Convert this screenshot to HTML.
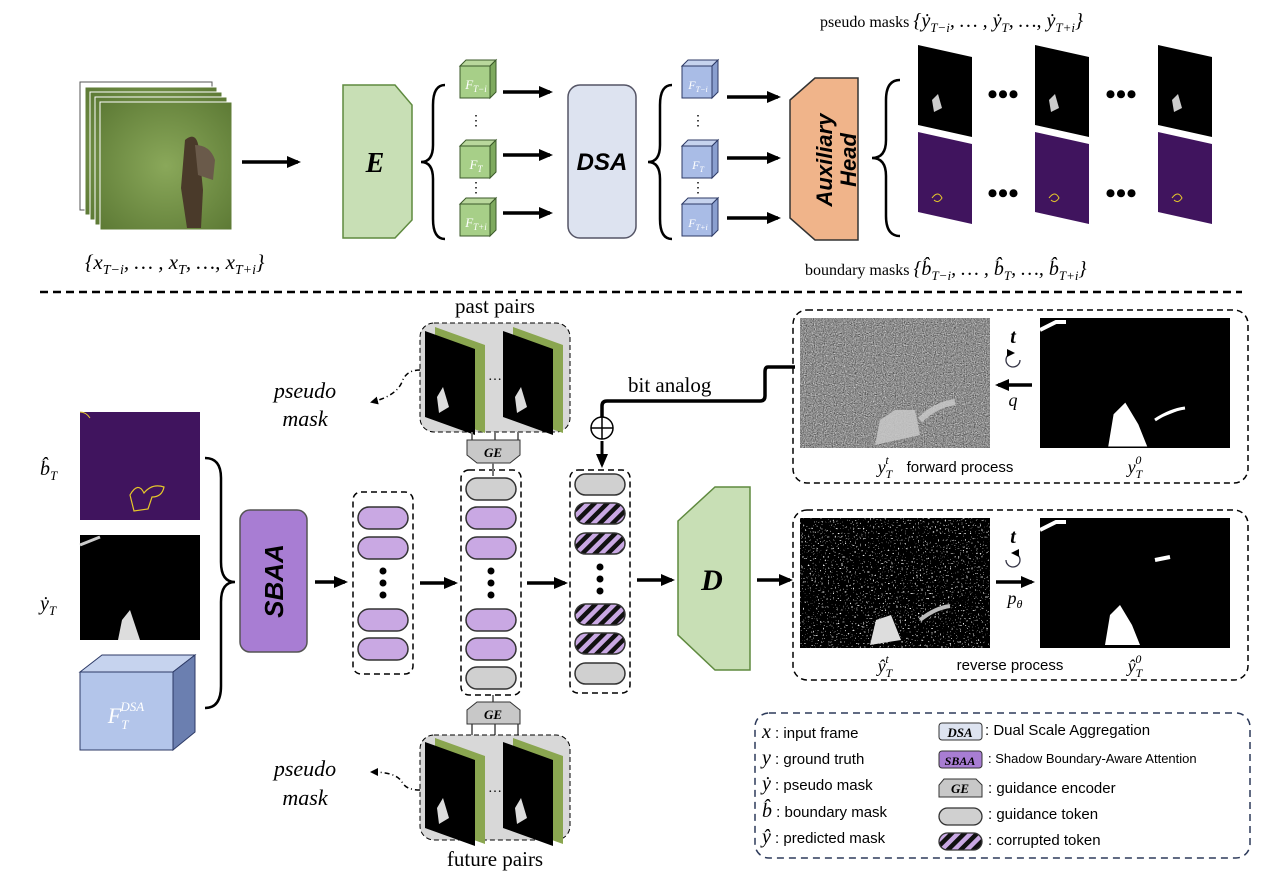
<!DOCTYPE html>
<html><head><meta charset="utf-8"><style>
body{margin:0;background:#fff}
svg{display:block}
.s{font-family:"Liberation Serif",serif}
.a{font-family:"Liberation Sans",sans-serif}
</style></head><body>
<svg width="1286" height="882" viewBox="0 0 1286 882" xmlns="http://www.w3.org/2000/svg">
<defs>
<marker id="ar" markerWidth="8" markerHeight="8" refX="6" refY="4" orient="auto" markerUnits="userSpaceOnUse"><path d="M0,0 L8,4 L0,8 z" fill="#000"/></marker>
<marker id="ab" markerWidth="14" markerHeight="12" refX="11" refY="6" orient="auto" markerUnits="userSpaceOnUse"><path d="M0,0 L14,6 L0,12 z" fill="#000"/></marker>
<pattern id="hat" width="9" height="9" patternUnits="userSpaceOnUse" patternTransform="rotate(45)"><rect width="9" height="9" fill="#c9a8e3"/><rect width="4.5" height="9" fill="#111"/></pattern>
<radialGradient id="grass" cx="50%" cy="50%" r="70%"><stop offset="0" stop-color="#8aa85a"/><stop offset="1" stop-color="#5d7a35"/></radialGradient>
<filter id="noise" x="0" y="0" width="100%" height="100%" color-interpolation-filters="sRGB"><feTurbulence type="fractalNoise" baseFrequency="0.9" numOctaves="1" seed="3"/><feColorMatrix type="matrix" values="0.5 0.5 0.5 0 -0.2  0.5 0.5 0.5 0 -0.2  0.5 0.5 0.5 0 -0.2  0 0 0 0 1"/></filter>
<filter id="speck" x="0" y="0" width="100%" height="100%"><feTurbulence type="fractalNoise" baseFrequency="0.6" numOctaves="1" seed="7"/><feColorMatrix type="matrix" values="0 0 0 9 -5.9  0 0 0 9 -5.9  0 0 0 9 -5.9  0 0 0 0 1"/></filter>
<g id="gcube"><path d="M0,6 L6,0 L36,0 L30,6 z" fill="#b9d79c" stroke="#3b5a2a"/><path d="M30,6 L36,0 L36,32 L30,38 z" fill="#7ea95e" stroke="#3b5a2a"/><rect x="0" y="6" width="30" height="32" fill="#a7cf88" stroke="#3b5a2a"/></g>
<g id="bcube"><path d="M0,6 L6,0 L36,0 L30,6 z" fill="#c6d3ee" stroke="#2d3a66"/><path d="M30,6 L36,0 L36,32 L30,38 z" fill="#8a9fcf" stroke="#2d3a66"/><rect x="0" y="6" width="30" height="32" fill="#a9bce6" stroke="#2d3a66"/></g>
<g id="pmask"><path d="M0,0 L54,12 L54,92 L0,80 z" fill="#000"/><path d="M14,55 l6,-6 l4,14 l-8,4 z" fill="#ccc"/></g>
<g id="bmask"><path d="M0,0 L54,12 L54,92 L0,80 z" fill="#40145e"/><path d="M14,66 q6,-8 10,0 q-4,6 -8,2" fill="none" stroke="#e6c82a" stroke-width="1"/></g>
<g id="pair"><path d="M10,0 L60,18 L60,106 L10,88 z" fill="#8aa650"/><path d="M0,4 L50,22 L50,108 L0,90 z" fill="#000"/><path d="M12,70 l6,-10 l6,20 l-10,6 z" fill="#ddd"/></g>
</defs>

<g>
<rect x="80" y="82" width="132" height="128" fill="#fff" stroke="#555"/>
<rect x="85" y="87" width="132" height="128" fill="url(#grass)" stroke="#fff"/>
<rect x="90" y="92" width="132" height="128" fill="url(#grass)" stroke="#fff"/>
<rect x="95" y="97" width="132" height="128" fill="url(#grass)" stroke="#fff"/>
<rect x="100" y="102" width="132" height="128" fill="url(#grass)" stroke="#fff"/>
<path d="M185,140 q12,-10 14,10 l4,40 l-2,38 l-14,0 l-6,-40 z" fill="#4a3a2a"/>
<path d="M195,145 q15,0 20,15 l-2,20 l-15,-5 z" fill="#6a5a4a"/>
</g>
<text x="85" y="269" class="s" font-size="21" font-style="italic">{x<tspan font-size="14" dy="5">T−i</tspan><tspan dy="-5">, … , x</tspan><tspan font-size="14" dy="5">T</tspan><tspan dy="-5">, …, x</tspan><tspan font-size="14" dy="5">T+i</tspan><tspan dy="-5">}</tspan></text>
<line x1="242" y1="162" x2="298" y2="162" stroke="#000" stroke-width="3.5" marker-end="url(#ab)"/>
<path d="M343,85 L395,85 L412,105 L412,220 L395,238 L343,238 z" fill="#c8dfb5" stroke="#5f8a3f" stroke-width="1.5"/>
<text x="375" y="172" class="s" font-size="28" font-weight="bold" font-style="italic" text-anchor="middle">E</text>
<path d="M445,85 q-12,0 -12,20 l0,40 q0,17 -12,17 q12,0 12,17 l0,40 q0,20 12,20" fill="none" stroke="#000" stroke-width="2.5"/>
<use href="#gcube" x="460" y="60"/><use href="#gcube" x="460" y="140"/><use href="#gcube" x="460" y="198"/>
<text x="476" y="89" class="s" font-size="13" fill="#fff" text-anchor="middle" font-style="italic">F<tspan font-size="9" dy="3">T−i</tspan></text>
<text x="476" y="169" class="s" font-size="13" fill="#fff" text-anchor="middle" font-style="italic">F<tspan font-size="9" dy="3">T</tspan></text>
<text x="476" y="227" class="s" font-size="13" fill="#fff" text-anchor="middle" font-style="italic">F<tspan font-size="9" dy="3">T+i</tspan></text>
<text x="476" y="125" font-size="14" text-anchor="middle">⋮</text><text x="476" y="192" font-size="14" text-anchor="middle">⋮</text>
<line x1="503" y1="92" x2="550" y2="92" stroke="#000" stroke-width="3.5" marker-end="url(#ab)"/>
<line x1="503" y1="155" x2="550" y2="155" stroke="#000" stroke-width="3.5" marker-end="url(#ab)"/>
<line x1="503" y1="213" x2="550" y2="213" stroke="#000" stroke-width="3.5" marker-end="url(#ab)"/>
<rect x="568" y="85" width="68" height="153" rx="12" fill="#dde3f0" stroke="#556" stroke-width="1.5"/>
<text x="602" y="170" class="a" font-size="24" font-weight="bold" font-style="italic" text-anchor="middle">DSA</text>
<path d="M672,85 q-12,0 -12,20 l0,40 q0,17 -12,17 q12,0 12,17 l0,40 q0,20 12,20" fill="none" stroke="#000" stroke-width="2.5"/>
<use href="#bcube" x="682" y="60"/><use href="#bcube" x="682" y="140"/><use href="#bcube" x="682" y="198"/>
<text x="698" y="89" class="s" font-size="12" fill="#fff" text-anchor="middle" font-style="italic">F<tspan font-size="8" dy="3">T−i</tspan></text>
<text x="698" y="169" class="s" font-size="12" fill="#fff" text-anchor="middle" font-style="italic">F<tspan font-size="8" dy="3">T</tspan></text>
<text x="698" y="227" class="s" font-size="12" fill="#fff" text-anchor="middle" font-style="italic">F<tspan font-size="8" dy="3">T+i</tspan></text>
<text x="698" y="125" font-size="14" text-anchor="middle">⋮</text><text x="698" y="192" font-size="14" text-anchor="middle">⋮</text>
<line x1="727" y1="97" x2="778" y2="97" stroke="#000" stroke-width="3.5" marker-end="url(#ab)"/>
<line x1="727" y1="158" x2="778" y2="158" stroke="#000" stroke-width="3.5" marker-end="url(#ab)"/>
<line x1="727" y1="218" x2="778" y2="218" stroke="#000" stroke-width="3.5" marker-end="url(#ab)"/>
<path d="M790,100 L815,78 L858,78 L858,240 L815,240 L790,218 z" fill="#f0b48a" stroke="#333" stroke-width="1.5"/>
<text transform="translate(832,160) rotate(-90)" class="a" font-size="22" font-weight="bold" font-style="italic" text-anchor="middle">Auxiliary</text>
<text transform="translate(856,160) rotate(-90)" class="a" font-size="22" font-weight="bold" font-style="italic" text-anchor="middle">Head</text>
<path d="M900,80 q-14,0 -14,20 l0,40 q0,18 -14,18 q14,0 14,18 l0,40 q0,20 14,20" fill="none" stroke="#000" stroke-width="2.5"/>
<use href="#pmask" x="918" y="45"/><use href="#pmask" x="1035" y="45"/><use href="#pmask" x="1158" y="45"/>
<use href="#bmask" x="918" y="132"/><use href="#bmask" x="1035" y="132"/><use href="#bmask" x="1158" y="132"/>
<text x="1003" y="104" font-size="30" text-anchor="middle" font-weight="bold">•••</text>
<text x="1121" y="104" font-size="30" text-anchor="middle" font-weight="bold">•••</text>
<text x="1003" y="203" font-size="30" text-anchor="middle" font-weight="bold">•••</text>
<text x="1121" y="203" font-size="30" text-anchor="middle" font-weight="bold">•••</text>
<text x="820" y="27" class="s" font-size="16">pseudo masks <tspan font-size="20" font-style="italic">{ẏ<tspan font-size="13" dy="5">T−i</tspan><tspan dy="-5">, … , ẏ</tspan><tspan font-size="13" dy="5">T</tspan><tspan dy="-5">, …, ẏ</tspan><tspan font-size="13" dy="5">T+i</tspan><tspan dy="-5">}</tspan></tspan></text>
<text x="805" y="275" class="s" font-size="16">boundary masks <tspan font-size="20" font-style="italic">{b̂<tspan font-size="13" dy="5">T−i</tspan><tspan dy="-5">, … , b̂</tspan><tspan font-size="13" dy="5">T</tspan><tspan dy="-5">, …, b̂</tspan><tspan font-size="13" dy="5">T+i</tspan><tspan dy="-5">}</tspan></tspan></text>
<line x1="40" y1="292" x2="1242" y2="292" stroke="#000" stroke-width="2.5" stroke-dasharray="8,5"/>

<text x="40" y="475" class="s" font-size="20" font-style="italic">b̂<tspan font-size="13" dy="5">T</tspan></text>
<rect x="80" y="412" width="120" height="108" fill="#40145e"/>
<path d="M130,495 q8,-14 14,-2 q8,-10 20,-6 q-2,10 -12,10 l-4,12 l-14,2 z" fill="none" stroke="#e6c82a" stroke-width="1.2"/>
<path d="M80,412 q6,0 10,6" fill="none" stroke="#e6c82a"/>
<text x="40" y="610" class="s" font-size="20" font-style="italic">ẏ<tspan font-size="13" dy="5">T</tspan></text>
<rect x="80" y="535" width="120" height="105" fill="#000"/>
<path d="M118,640 l4,-20 l8,-10 l6,18 l4,12 z" fill="#ddd"/>
<path d="M80,545 l20,-8" stroke="#ccc" stroke-width="3"/>
<path d="M80,672 L102,655 L195,655 L173,672 z" fill="#c6d3ee" stroke="#2d3a66"/>
<path d="M173,672 L195,655 L195,732 L173,750 z" fill="#6b7fb0" stroke="#2d3a66"/>
<rect x="80" y="672" width="93" height="78" fill="#b3c5ea" stroke="#2d3a66"/>
<text x="126" y="723" class="s" font-size="22" fill="#fff" font-style="italic" text-anchor="middle">F<tspan font-size="13" dy="6">T</tspan><tspan font-size="13" dy="-18" dx="-8">DSA</tspan></text>
<path d="M205,458 q16,0 16,20 l0,84 q0,20 14,20 q-14,0 -14,20 l0,84 q0,22 -16,22" fill="none" stroke="#000" stroke-width="2.5"/>
<rect x="240" y="510" width="67" height="142" rx="10" fill="#a87dd3" stroke="#555" stroke-width="1.5"/>
<text transform="translate(283,581) rotate(-90)" class="a" font-size="26" font-weight="bold" font-style="italic" text-anchor="middle">SBAA</text>
<line x1="315" y1="582" x2="345" y2="582" stroke="#000" stroke-width="3.5" marker-end="url(#ab)"/>

<g stroke="#333" stroke-width="1.5">
<rect x="353" y="492" width="60" height="182" rx="8" fill="none" stroke="#000" stroke-dasharray="6,4"/>
<rect x="358" y="507" width="50" height="22" rx="11" fill="#c9a8e3"/>
<rect x="358" y="537" width="50" height="22" rx="11" fill="#c9a8e3"/>
<rect x="358" y="609" width="50" height="22" rx="11" fill="#c9a8e3"/>
<rect x="358" y="638" width="50" height="22" rx="11" fill="#c9a8e3"/>
<rect x="461" y="470" width="60" height="225" rx="8" fill="none" stroke="#000" stroke-dasharray="6,4"/>
<rect x="466" y="478" width="50" height="22" rx="11" fill="#d0d0d0"/>
<rect x="466" y="507" width="50" height="22" rx="11" fill="#c9a8e3"/>
<rect x="466" y="537" width="50" height="22" rx="11" fill="#c9a8e3"/>
<rect x="466" y="609" width="50" height="22" rx="11" fill="#c9a8e3"/>
<rect x="466" y="638" width="50" height="22" rx="11" fill="#c9a8e3"/>
<rect x="466" y="667" width="50" height="22" rx="11" fill="#d0d0d0"/>
<rect x="570" y="470" width="60" height="223" rx="8" fill="none" stroke="#000" stroke-dasharray="6,4"/>
<rect x="575" y="474" width="50" height="21" rx="10.5" fill="#d0d0d0"/>
<rect x="575" y="503" width="50" height="21" rx="10.5" fill="url(#hat)"/>
<rect x="575" y="533" width="50" height="21" rx="10.5" fill="url(#hat)"/>
<rect x="575" y="604" width="50" height="21" rx="10.5" fill="url(#hat)"/>
<rect x="575" y="633" width="50" height="21" rx="10.5" fill="url(#hat)"/>
<rect x="575" y="663" width="50" height="21" rx="10.5" fill="#d0d0d0"/>
</g>
<g fill="#000"><circle cx="383" cy="571" r="3.5"/><circle cx="383" cy="583" r="3.5"/><circle cx="383" cy="595" r="3.5"/>
<circle cx="491" cy="571" r="3.5"/><circle cx="491" cy="583" r="3.5"/><circle cx="491" cy="595" r="3.5"/>
<circle cx="600" cy="567" r="3.5"/><circle cx="600" cy="579" r="3.5"/><circle cx="600" cy="591" r="3.5"/></g>
<line x1="420" y1="583" x2="455" y2="583" stroke="#000" stroke-width="3.5" marker-end="url(#ab)"/>
<line x1="527" y1="583" x2="565" y2="583" stroke="#000" stroke-width="3.5" marker-end="url(#ab)"/>
<line x1="637" y1="580" x2="672" y2="580" stroke="#000" stroke-width="3.5" marker-end="url(#ab)"/>

<text x="495" y="313" class="s" font-size="21" text-anchor="middle">past pairs</text>
<rect x="420" y="323" width="150" height="109" rx="14" fill="#d8d8d8" stroke="#000" stroke-dasharray="5,3"/>
<use href="#pair" x="425" y="327"/><use href="#pair" x="503" y="327"/>
<text x="495" y="380" font-size="14" text-anchor="middle">…</text>
<g stroke="#777" stroke-width="2"><line x1="472" y1="432" x2="472" y2="440"/><line x1="495" y1="432" x2="495" y2="440"/><line x1="518" y1="432" x2="518" y2="440"/></g>
<path d="M467,440 L520,440 L520,455 L510,463 L477,463 L467,455 z" fill="#c8c8c8" stroke="#333"/>
<text x="493" y="457" class="s" font-size="13" font-weight="bold" font-style="italic" text-anchor="middle">GE</text>
<line x1="493" y1="463" x2="493" y2="476" stroke="#777" stroke-width="2"/>
<g stroke="#777" stroke-width="2"><line x1="493" y1="695" x2="493" y2="702"/><line x1="472" y1="722" x2="472" y2="735"/><line x1="495" y1="722" x2="495" y2="735"/><line x1="518" y1="722" x2="518" y2="735"/></g>
<path d="M477,702 L510,702 L520,710 L520,724 L467,724 L467,710 z" fill="#c8c8c8" stroke="#333"/>
<text x="493" y="719" class="s" font-size="13" font-weight="bold" font-style="italic" text-anchor="middle">GE</text>
<rect x="420" y="735" width="150" height="105" rx="14" fill="#d8d8d8" stroke="#000" stroke-dasharray="5,3"/>
<use href="#pair" x="425" y="738"/><use href="#pair" x="503" y="738"/>
<text x="495" y="792" font-size="14" text-anchor="middle">…</text>
<text x="495" y="866" class="s" font-size="21" text-anchor="middle">future pairs</text>

<text x="305" y="398" class="s" font-size="22" font-style="italic" text-anchor="middle">pseudo</text>
<text x="305" y="426" class="s" font-size="22" font-style="italic" text-anchor="middle">mask</text>
<path d="M420,370 q-14,0 -18,12 q-6,14 -30,20" fill="none" stroke="#000" stroke-width="1.5" stroke-dasharray="5,3,1,3" marker-end="url(#ar)"/>
<text x="305" y="776" class="s" font-size="22" font-style="italic" text-anchor="middle">pseudo</text>
<text x="305" y="805" class="s" font-size="22" font-style="italic" text-anchor="middle">mask</text>
<path d="M420,790 q-14,0 -18,-8 q-6,-10 -30,-10" fill="none" stroke="#000" stroke-width="1.5" stroke-dasharray="5,3,1,3" marker-end="url(#ar)"/>

<path d="M795,367 L768,367 Q765,367 765,372 L765,396 Q765,401 760,401 L607,401 Q602,401 602,406 L602,417" fill="none" stroke="#000" stroke-width="3.5"/>
<circle cx="602" cy="428" r="11" fill="#fff" stroke="#000" stroke-width="1.5"/>
<line x1="591" y1="428" x2="613" y2="428" stroke="#000" stroke-width="1.5"/><line x1="602" y1="417" x2="602" y2="439" stroke="#000" stroke-width="1.5"/>
<line x1="602" y1="441" x2="602" y2="465" stroke="#000" stroke-width="3" marker-end="url(#ab)"/>
<text x="628" y="392" class="s" font-size="21">bit analog</text>

<path d="M678,521 L715,487 L750,487 L750,670 L715,670 L678,635 z" fill="#c8dfb5" stroke="#5f8a3f" stroke-width="1.5"/>
<text x="712" y="590" class="s" font-size="30" font-weight="bold" font-style="italic" text-anchor="middle">D</text>
<line x1="757" y1="580" x2="790" y2="580" stroke="#000" stroke-width="3.5" marker-end="url(#ab)"/>

<rect x="793" y="310" width="455" height="173" rx="14" fill="none" stroke="#000" stroke-width="1.5" stroke-dasharray="6,4"/>
<rect x="800" y="318" width="190" height="130" fill="#888" filter="url(#noise)"/>
<path d="M875,445 l5,-25 l15,-10 l20,0 l5,25 z" fill="#c8c8c8" opacity="0.85"/>
<path d="M920,420 q15,-15 35,-18" stroke="#c8c8c8" stroke-width="6" fill="none" opacity="0.85"/>
<rect x="1040" y="318" width="190" height="130" fill="#000"/>
<path d="M1110,445 l5,-30 l10,-10 l12,20 l8,20 z M1155,420 q15,-10 30,-12" fill="#fff" stroke="#fff" stroke-width="3"/>
<path d="M1040,330 l16,-8 l10,0" stroke="#fff" stroke-width="4" fill="none"/>
<text x="1013" y="343" class="s" font-size="20" font-weight="bold" font-style="italic" text-anchor="middle">t</text>
<path d="M1020,360 a7,7 0 1 1 -7,-7" fill="none" stroke="#334" stroke-width="1.3" marker-end="url(#ar)"/>
<line x1="1032" y1="385" x2="998" y2="385" stroke="#000" stroke-width="3.5" marker-end="url(#ab)"/>
<text x="1013" y="406" class="s" font-size="18" font-style="italic" text-anchor="middle">q</text>
<text x="885" y="473" class="s" font-size="18" font-style="italic" text-anchor="middle">y<tspan font-size="12" dy="5">T</tspan><tspan font-size="12" dy="-14" dx="-7">t</tspan></text>
<text x="960" y="472" class="a" font-size="15" text-anchor="middle">forward  process</text>
<text x="1135" y="473" class="s" font-size="18" font-style="italic" text-anchor="middle">y<tspan font-size="12" dy="5">T</tspan><tspan font-size="12" dy="-14" dx="-7">0</tspan></text>

<rect x="793" y="510" width="455" height="170" rx="14" fill="none" stroke="#000" stroke-width="1.5" stroke-dasharray="6,4"/>
<rect x="800" y="518" width="190" height="130" fill="#000" filter="url(#speck)"/>
<path d="M870,645 l6,-25 l15,-5 l10,25 z" fill="#ddd"/>
<path d="M920,620 q15,-12 30,-14" stroke="#bbb" stroke-width="4" fill="none"/>
<rect x="1040" y="518" width="190" height="130" fill="#000"/>
<path d="M1105,645 l5,-30 l10,-10 l12,20 l8,20 z" fill="#fff"/>
<path d="M1040,530 l16,-8 l10,0 M1155,560 l15,-3" stroke="#fff" stroke-width="4" fill="none"/>
<text x="1013" y="543" class="s" font-size="20" font-weight="bold" font-style="italic" text-anchor="middle">t</text>
<path d="M1006,560 a7,7 0 1 0 7,-7" fill="none" stroke="#334" stroke-width="1.3" marker-end="url(#ar)"/>
<line x1="996" y1="582" x2="1032" y2="582" stroke="#000" stroke-width="3.5" marker-end="url(#ab)"/>
<text x="1015" y="604" class="s" font-size="18" font-style="italic" text-anchor="middle">p<tspan font-size="12" dy="4">θ</tspan></text>
<text x="885" y="672" class="s" font-size="18" font-style="italic" text-anchor="middle">ŷ<tspan font-size="12" dy="5">T</tspan><tspan font-size="12" dy="-14" dx="-7">t</tspan></text>
<text x="1010" y="670" class="a" font-size="15" text-anchor="middle">reverse  process</text>
<text x="1135" y="672" class="s" font-size="18" font-style="italic" text-anchor="middle">ŷ<tspan font-size="12" dy="5">T</tspan><tspan font-size="12" dy="-14" dx="-7">0</tspan></text>

<rect x="755" y="713" width="495" height="145" rx="14" fill="none" stroke="#2d3a5a" stroke-width="1.5" stroke-dasharray="7,5"/>
<g class="a" font-size="15">
<text x="762" y="738"><tspan class="s" font-size="20" font-style="italic">x</tspan> : input frame</text>
<text x="762" y="764"><tspan class="s" font-size="20" font-style="italic">y</tspan> : ground truth</text>
<text x="762" y="790"><tspan class="s" font-size="20" font-style="italic">ẏ</tspan> : pseudo mask</text>
<text x="762" y="817"><tspan class="s" font-size="20" font-style="italic">b̂</tspan> : boundary mask</text>
<text x="762" y="843"><tspan class="s" font-size="20" font-style="italic">ŷ</tspan> : predicted mask</text>
<text x="985" y="735">: Dual Scale Aggregation</text>
<text x="988" y="763" font-size="13">: Shadow Boundary-Aware Attention</text>
<text x="988" y="793">: guidance encoder</text>
<text x="988" y="819">: guidance token</text>
<text x="988" y="845">: corrupted token</text>
</g>
<rect x="939" y="723" width="43" height="17" rx="3" fill="#dde3f0" stroke="#333"/>
<text x="960" y="737" class="s" font-size="13" font-weight="bold" font-style="italic" text-anchor="middle">DSA</text>
<rect x="939" y="751" width="43" height="17" rx="3" fill="#a87dd3" stroke="#333"/>
<text x="960" y="765" class="s" font-size="12" font-weight="bold" font-style="italic" text-anchor="middle">SBAA</text>
<path d="M944,779 L976,779 L982,785 L982,797 L939,797 L939,785 z" fill="#c8c8c8" stroke="#333"/>
<text x="960" y="793" class="s" font-size="13" font-weight="bold" font-style="italic" text-anchor="middle">GE</text>
<rect x="939" y="808" width="43" height="17" rx="8.5" fill="#d0d0d0" stroke="#333" stroke-width="1.3"/>
<rect x="939" y="833" width="43" height="17" rx="8.5" fill="url(#hat)" stroke="#333" stroke-width="1.3"/>
</svg>
</body></html>
